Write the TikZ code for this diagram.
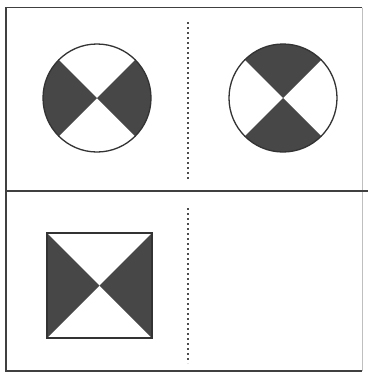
\documentclass[tikz,border=0pt]{standalone}
\begin{document}
\begin{tikzpicture}[x=1pt,y=-1pt,
  frame/.style={draw=black!75,line width=1.8pt},
  dots/.style={draw=black!70,line width=2.4pt,dash pattern=on 2.4pt off 2.6pt},
  dark/.style={fill=black!72},
  outline/.style={draw=black!80,line width=1.3pt}]
\useasboundingbox (0,0) rectangle (368,375);
\fill[white] (0,0) rectangle (368,375);
% frame
\draw[frame] (362,7.5) -- (6,7.5) -- (6,371) -- (362,371);
\draw[draw=black!25,line width=0.8pt] (362,7.5) -- (362,371);
\draw[frame] (6,191) -- (368,191);
% dotted separators
\draw[dots] (188,22) -- (188,180);
\draw[dots] (188,208) -- (188,363);
% left circle: dark left/right
\coordinate (c1) at (97,98);
\fill[dark] (c1) -- ++(45:54) arc[start angle=45,end angle=-45,radius=54] -- cycle;
\fill[dark] (c1) -- ++(135:54) arc[start angle=135,end angle=225,radius=54] -- cycle;
\draw[outline] (c1) circle[radius=54];
% right circle: dark top/bottom
\coordinate (c2) at (283,98);
\fill[dark] (c2) -- ++(45:54) arc[start angle=45,end angle=135,radius=54] -- cycle;
\fill[dark] (c2) -- ++(225:54) arc[start angle=225,end angle=315,radius=54] -- cycle;
\draw[outline] (c2) circle[radius=54];
% square
\coordinate (s) at (99.5,285.5);
\fill[dark] (47,233) -- (s) -- (47,338) -- cycle;
\fill[dark] (152,233) -- (s) -- (152,338) -- cycle;
\draw[outline] (47,233) rectangle (152,338);
\end{tikzpicture}
\end{document}
